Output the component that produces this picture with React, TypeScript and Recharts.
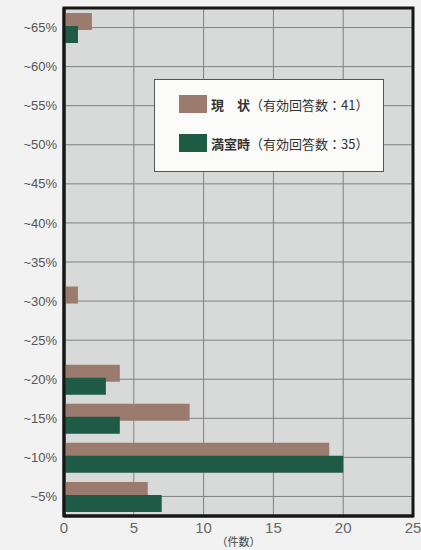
import React from 'react';
import { BarChart, Bar, XAxis, YAxis, CartesianGrid, Legend, ReferenceArea } from 'recharts';

// 家賃収入に占める返済比率（上から ~65% … ~5%）
const categories = ['~65%', '~60%', '~55%', '~50%', '~45%', '~40%', '~35%', '~30%', '~25%', '~20%', '~15%', '~10%', '~5%'];
const currentCounts = [2, 0, 0, 0, 0, 0, 0, 1, 0, 4, 9, 19, 6];
const fullCounts = [1, 0, 0, 0, 0, 0, 0, 0, 0, 3, 4, 20, 7];
const xTicks = [0, 5, 10, 15, 20, 25];

const BROWN = '#9b7b6d';
const GREEN = '#1e5a45';
const FRAME = '#161616';
const FONT = '"Liberation Sans", "Noto Sans CJK JP", sans-serif';

const data = categories.map((cat, i) => ({
  cat,
  current: currentCounts[i],
  full: fullCounts[i],
}));

const LegendBox = () => (
  <div
    style={{
      background: '#fbfbfa',
      border: '1px solid #555',
      padding: '14px 0 14px 24px',
      fontFamily: '"Noto Sans CJK JP", sans-serif',
      fontSize: 13,
      color: '#333',
      boxSizing: 'border-box',
      width: 230,
      height: 93,
    }}
  >
    {[
      { color: BROWN, name: '現\u3000状', n: 41 },
      { color: GREEN, name: '満室時', n: 35 },
    ].map((it, i) => (
      <div key={i} style={{ display: 'flex', alignItems: 'center', height: 20, marginBottom: i === 0 ? 19 : 0 }}>
        <span style={{ display: 'inline-block', width: 28, height: 18, background: it.color, marginRight: 4 }} />
        <span style={{ fontWeight: 700 }}>{it.name}</span>
        <span>（有効回答数：{it.n}）</span>
      </div>
    ))}
  </div>
);

export default function App() {
  return (
    <div style={{ position: 'absolute', left: 0, top: 0, width: 421, height: 550, background: '#f1f2f1' }}>
      <BarChart
        width={421}
        height={550}
        data={data}
        layout="vertical"
        margin={{ top: 8, right: 8, bottom: 10, left: 0 }}
        barSize={17}
        barGap={-4}
      >
        <CartesianGrid stroke="#7f8280" strokeWidth={1} fill="#d7dad8" />
        <XAxis
          type="number"
          domain={[0, 25]}
          ticks={xTicks}
          height={24}
          axisLine={{ stroke: FRAME, strokeWidth: 3 }}
          tickLine={false}
          tickSize={0}
          tickMargin={6}
          tick={{ fontSize: 15, fill: '#666', fontFamily: FONT }}
          label={{ value: '（件数）', position: 'insideBottom', offset: -6, fontSize: 11, fill: '#444', fontFamily: '"Noto Sans CJK JP", sans-serif' }}
        />
        <YAxis
          type="category"
          dataKey="cat"
          width={64}
          axisLine={{ stroke: FRAME, strokeWidth: 3 }}
          tickLine={false}
          tickSize={0}
          tickMargin={7}
          tick={{ fontSize: 13, fill: '#555', fontFamily: FONT }}
        />
        <Legend
          layout="vertical"
          align="center"
          verticalAlign="middle"
          content={LegendBox}
          wrapperStyle={{ position: 'absolute', left: 154, top: 79, width: 230 }}
        />
        <Bar dataKey="current" name="現状" fill={BROWN} isAnimationActive={false} />
        <Bar dataKey="full" name="満室時" fill={GREEN} isAnimationActive={false} />
        <ReferenceArea x1={0} x2={25} fill="none" stroke={FRAME} strokeWidth={3} ifOverflow="visible" />
      </BarChart>
    </div>
  );
}
